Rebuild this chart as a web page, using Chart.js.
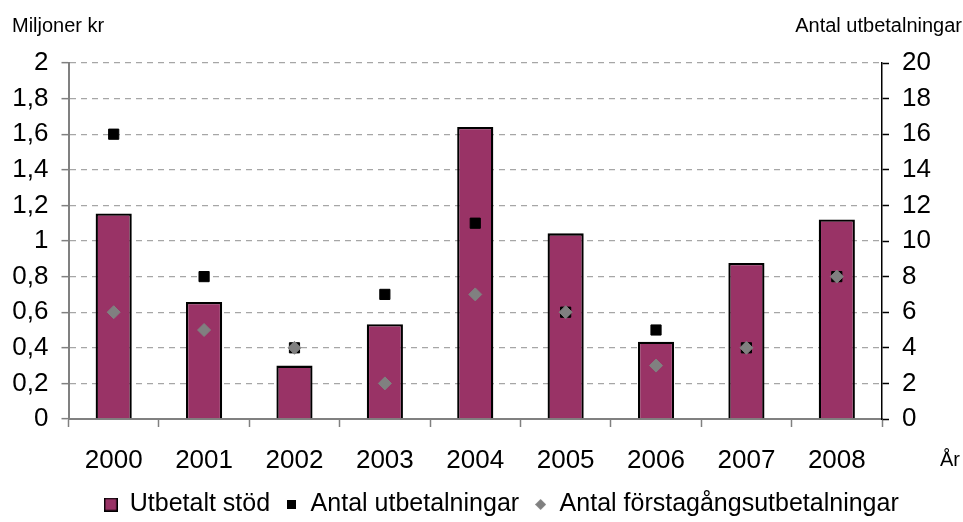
<!DOCTYPE html>
<html>
<head>
<meta charset="utf-8">
<script src="https://cdn.jsdelivr.net/npm/chart.js@4/dist/chart.umd.min.js"></script>
<style>
html,body{margin:0;padding:0;background:#ffffff;}
#wrap{width:963px;height:522px;}
</style>
</head>
<body>
<div id="wrap"><canvas id="c" width="963" height="522"></canvas></div>
<script>
// ---- data ----
const years = ['2000','2001','2002','2003','2004','2005','2006','2007','2008'];
const utbetaltStod = [1.155, 0.657, 0.30, 0.532, 1.641, 1.043, 0.434, 0.877, 1.121];
const antalUtbetalningar = [16, 8, 4, 7, 11, 6, 5, 4, 8];
const antalForstagangs = [6, 5, 4, 2, 7, 6, 3, 4, 8];
const leftTickLabels = ['0','0,2','0,4','0,6','0,8','1','1,2','1,4','1,6','1,8','2'];
const rightTickLabels = ['0','2','4','6','8','10','12','14','16','18','20'];
const seriesNames = ['Utbetalt stöd','Antal utbetalningar','Antal förstagångsutbetalningar'];
const leftAxisTitle = 'Miljoner kr';
const rightAxisTitle = 'Antal utbetalningar';
const xAxisTitle = 'År';

// ---- styles ----
const FONT = "'Liberation Sans', Arial, sans-serif";
const BAR_COLOR = '#993366';
const DIAMOND_COLOR = '#808080';
Chart.defaults.font.family = FONT;
Chart.defaults.color = '#000000';

function makeIcon(w, h, draw) {
  const c = document.createElement('canvas');
  c.width = w; c.height = h;
  draw(c.getContext('2d'));
  return c;
}
const legendIcons = [
  makeIcon(14, 14, g => {
    g.fillStyle = BAR_COLOR; g.fillRect(1, 1, 12, 12);
    g.strokeStyle = '#000'; g.lineWidth = 1.5; g.strokeRect(0.75, 0.75, 12.5, 12.5);
  }),
  makeIcon(9, 9, g => { g.fillStyle = '#000'; g.fillRect(0, 0, 9, 9); }),
  makeIcon(11, 11, g => {
    g.fillStyle = DIAMOND_COLOR; g.beginPath();
    g.moveTo(5.5, 0); g.lineTo(11, 5.5); g.lineTo(5.5, 11); g.lineTo(0, 5.5); g.closePath(); g.fill();
  })
];

const textPlugin = {
  id: 'axisTexts',
  afterLayout(chart) {
    // the reference legend sits slightly right of centre
    if (chart.legend) { chart.legend.left += 40; }
  },
  afterDraw(chart) {
    const ctx = chart.ctx;
    ctx.save();
    ctx.fillStyle = '#000';
    ctx.font = '20px ' + FONT;
    ctx.textBaseline = 'alphabetic';
    ctx.textAlign = 'left';
    ctx.fillText(leftAxisTitle, 12, 32);
    ctx.textAlign = 'right';
    ctx.fillText(rightAxisTitle, 962, 32);
    ctx.textAlign = 'left';
    ctx.fillText(xAxisTitle, 940, 466);
    ctx.restore();
  }
};

new Chart(document.getElementById('c'), {
  type: 'bar',
  data: {
    labels: years,
    datasets: [
      {
        type: 'bar', label: seriesNames[0], data: utbetaltStod, yAxisID: 'y',
        backgroundColor: BAR_COLOR, borderColor: '#000000', borderWidth: 2.3,
        barPercentage: 0.4, categoryPercentage: 1.0, order: 2
      },
      {
        type: 'line', label: seriesNames[1], data: antalUtbetalningar, yAxisID: 'y1',
        showLine: false, pointStyle: 'rect', pointRadius: 7.2,
        pointBackgroundColor: '#000000', pointBorderColor: '#000000', pointBorderWidth: 1, order: 1
      },
      {
        type: 'line', label: seriesNames[2], data: antalForstagangs, yAxisID: 'y1',
        showLine: false, pointStyle: 'rectRot', pointRadius: 6.5,
        pointBackgroundColor: DIAMOND_COLOR, pointBorderColor: DIAMOND_COLOR, pointBorderWidth: 1, order: 0
      }
    ]
  },
  options: {
    responsive: false,
    animation: false,
    devicePixelRatio: 1,
    layout: { padding: { top: 63, left: 0, right: 0, bottom: -5 } },
    plugins: {
      tooltip: { enabled: false },
      legend: {
        position: 'bottom',
        labels: {
          usePointStyle: true,
          boxWidth: 13,
          padding: 15,
          color: '#000',
          font: { size: 25, family: FONT },
          sort: (a, b) => a.datasetIndex - b.datasetIndex,
          generateLabels: chart => Chart.defaults.plugins.legend.labels.generateLabels(chart)
            .map(l => Object.assign({}, l, { pointStyle: legendIcons[l.datasetIndex] }))
        }
      }
    },
    scales: {
      x: {
        offset: true,
        grid: { display: true, offset: true, drawOnChartArea: false, drawTicks: true, tickLength: 8, tickColor: '#808080', tickWidth: 1.5 },
        border: { display: true, color: '#808080', width: 2 },
        ticks: { font: { size: 26 }, color: '#000', padding: 18, maxRotation: 0, autoSkip: false },
        afterFit: s => { s.height = 58; }
      },
      y: {
        position: 'left', min: 0, max: 2,
        ticks: { stepSize: 0.2, font: { size: 26 }, color: '#000', padding: 13,
                 callback: (v, i) => leftTickLabels[i] },
        grid: {
          color: c => (c.tick && c.tick.value === 0) ? 'rgba(0,0,0,0)' : '#a6a6a6',
          lineWidth: 1.3, tickLength: 7, tickColor: '#808080', tickWidth: 1.5
        },
        border: { display: true, color: '#808080', width: 2, dash: [6, 5] },
        afterFit: s => { s.width = 68.5; }
      },
      y1: {
        position: 'right', min: 0, max: 20,
        ticks: { stepSize: 2, font: { size: 26 }, color: '#000', padding: 13,
                 callback: (v, i) => rightTickLabels[i] },
        grid: { drawOnChartArea: false, tickLength: 7, tickColor: '#000', tickWidth: 1.5 },
        border: { display: true, color: '#000', width: 1.5 },
        afterFit: s => { s.width = 81; }
      }
    }
  },
  plugins: [textPlugin]
});
</script>
</body>
</html>
